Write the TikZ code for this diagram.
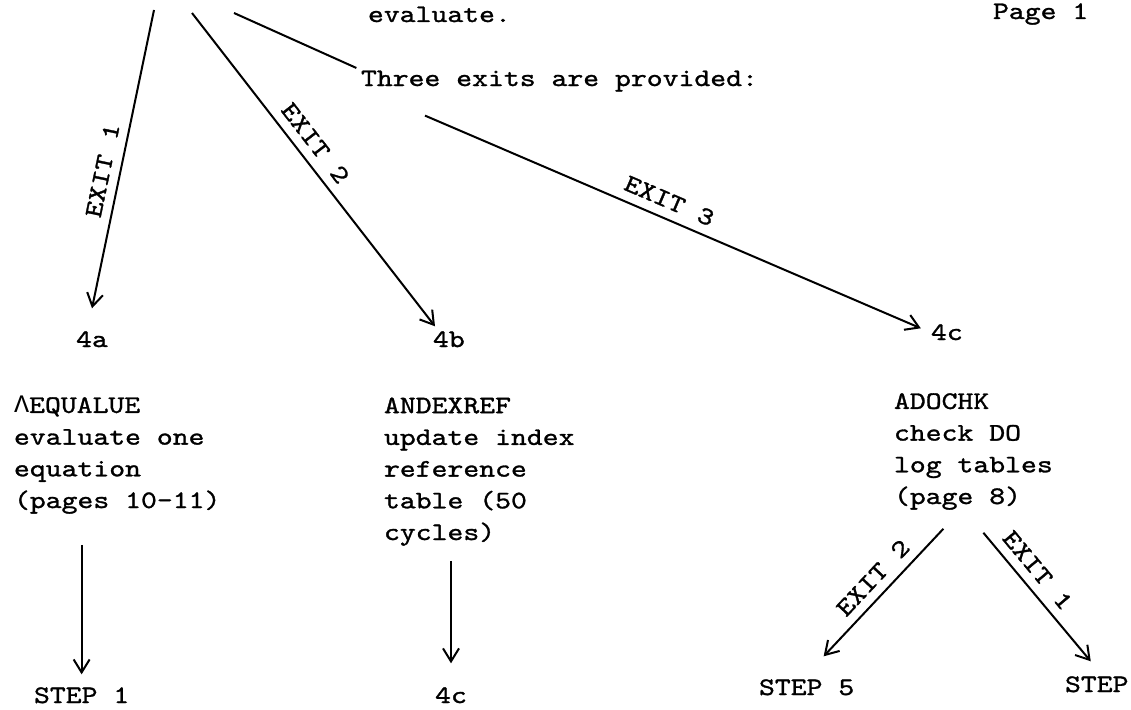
\documentclass[tikz,border=0pt]{standalone}
\usepackage{fontspec}
\setmonofont{lmmono10-regular.otf}[FakeStretch=1.2,FakeBold=1.2]
\newfontfamily\grk{Liberation Mono}
\usetikzlibrary{arrows.meta}

\begin{document}
\begin{tikzpicture}[->,>={Straight Barb[length=13pt,width=16pt]},x=1pt,y=-1pt,line width=2pt,
  every node/.style={font=\ttfamily\fontsize{25.2}{31.7}\selectfont,inner sep=0pt},
  txt/.style={anchor=base west,align=left},
  lbl/.style={sloped,above,inner sep=9pt}]
\useasboundingbox (0,0) rectangle (1131,709);
% loose ends at the top of the page
\coordinate (t1) at (154,10);
\coordinate (t2) at (192,13);
\coordinate (t3) at (234,13);
\node  (1)[txt] at (367,22)  {evaluate.};
\node  (2)[txt] at (992,19)  {Page 1};
\node  (3)[txt] at (360,86)  {Three exits are provided:};
\node  (4)[anchor=base] at (92,347) {4a};
\node  (5)[txt] at (432,347) {4b};
\node  (6)[txt] at (930,340) {4c};
% base of a block is its last line
\node  (7)[txt] at (13,508)  {{\grk Λ}EQUALUE\\evaluate one\\equation\\(pages 10-11)};
\node  (8)[txt] at (383,540) {ANDEXREF\\update index\\reference\\table (50\\cycles)};
\node  (9)[txt] at (893,504) {ADOCHK\\check DO\\log tables\\(page 8)};
\node (10)[txt] at (33,703)  {STEP 1};
\node (11)[anchor=base] at (451,703) {4c};
\node (12)[txt] at (758,695) {STEP 5};
\node (13)[txt] at (1064,692) {STEP};
\path (t1) edge node[lbl,pos=0.55]{EXIT 1} ([yshift=22pt]4.north)
      (t2) edge node[lbl,pos=0.45]{EXIT 2} ([shift={(3pt,4pt)}]5.north west)
      (t3) edge[-,shorten >=4pt] (3.north west)
      ([shift={(65pt,-23pt)}]3.south west) edge[shorten >=10pt] node[lbl,pos=0.47]{EXIT 3} (6.west)
      (7.south -| 10.north) edge[shorten <=30pt,shorten >=12pt] (10.north)
      (8.south -| 11.north) edge[shorten <=14pt,shorten >=23pt] (11.north)
      ([shift={(-30pt,-18pt)}]9.south) edge node[lbl,pos=0.48]{EXIT 2} ([shift={(17pt,22pt)}]12.north)
      ([shift={(10pt,-22pt)}]9.south) edge node[lbl,pos=0.38]{EXIT 1} ([shift={(-6pt,14pt)}]13.north);
\end{tikzpicture}
\end{document}
